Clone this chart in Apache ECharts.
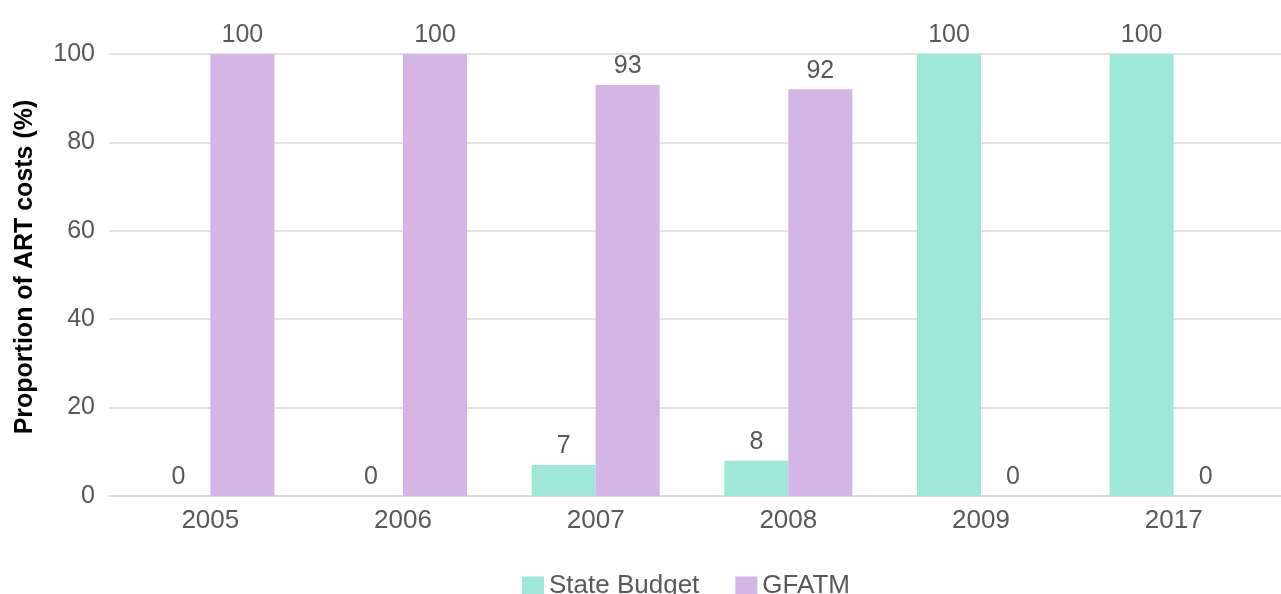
<!DOCTYPE html>
<html>
<head>
<meta charset="utf-8">
<script src="https://cdn.jsdelivr.net/npm/echarts@6/dist/echarts.min.js"></script>
<style>
  html, body { margin: 0; padding: 0; background: #fff; }
  #chart { width: 1281px; height: 594px; }
</style>
</head>
<body>
<div id="chart"></div>
<script>
// Share of ART costs by funding source, per year
const years = ['2005', '2006', '2007', '2008', '2009', '2017'];
const stateBudget = [0, 0, 7, 8, 100, 100];
const gfatm = [100, 100, 93, 92, 0, 0];
const yTicks = { min: 0, max: 100, interval: 20 };

const textColor = '#595959';
const fontFamily = '"Liberation Sans", Helvetica, Arial, sans-serif';

const chart = echarts.init(document.getElementById('chart'));

const barLabel = {
  show: true,
  position: 'top',
  distance: 6,
  color: textColor,
  fontSize: 25,
  fontFamily: fontFamily
};

chart.setOption({
  animation: false,
  textStyle: { fontFamily: fontFamily },
  // grid 0: full-width frame carrying gridlines, y labels and the baseline
  // grid 1: slightly inset area where the bars and year labels sit
  grid: [
    { left: 109, right: 0, top: 54, bottom: 98 },
    { left: 114, right: 11, top: 54, bottom: 98 }
  ],
  legend: {
    data: ['State Budget', 'GFATM'],
    left: 517,
    top: 568,
    itemWidth: 22,
    itemHeight: 19,
    itemGap: 36,
    icon: 'rect',
    textStyle: { color: textColor, fontSize: 26, fontFamily: fontFamily }
  },
  xAxis: [
    {
      gridIndex: 0,
      type: 'category',
      data: years,
      axisLine: { lineStyle: { color: '#d9d9d9', width: 2 } },
      axisTick: { show: false },
      axisLabel: { show: false }
    },
    {
      gridIndex: 1,
      type: 'category',
      data: years,
      axisLine: { show: false },
      axisTick: { show: false },
      axisLabel: { color: textColor, fontSize: 26, margin: 12 }
    }
  ],
  yAxis: [
    {
      gridIndex: 0,
      type: 'value',
      min: yTicks.min,
      max: yTicks.max,
      interval: yTicks.interval,
      name: 'Proportion of ART costs (%)',
      nameLocation: 'middle',
      nameGap: 71,
      nameTextStyle: {
        color: '#000', fontWeight: 'bold', fontSize: 25, fontFamily: fontFamily,
        padding: [0, 0, 0, 16]
      },
      axisLine: { show: false },
      axisTick: { show: false },
      axisLabel: { color: textColor, fontSize: 25, margin: 14 },
      splitLine: { lineStyle: { color: '#d9d9d9', width: 1.5 } }
    },
    {
      gridIndex: 1,
      type: 'value',
      min: yTicks.min,
      max: yTicks.max,
      interval: yTicks.interval,
      show: false,
      splitLine: { show: false }
    }
  ],
  series: [
    {
      name: 'State Budget',
      type: 'bar',
      xAxisIndex: 1,
      yAxisIndex: 1,
      data: stateBudget,
      barWidth: 64,
      barGap: '0%',
      itemStyle: { color: '#9fe7d8' },
      label: barLabel
    },
    {
      name: 'GFATM',
      type: 'bar',
      xAxisIndex: 1,
      yAxisIndex: 1,
      data: gfatm,
      barWidth: 64,
      barGap: '0%',
      itemStyle: { color: '#d5b5e5' },
      label: barLabel
    }
  ]
});
</script>
</body>
</html>
